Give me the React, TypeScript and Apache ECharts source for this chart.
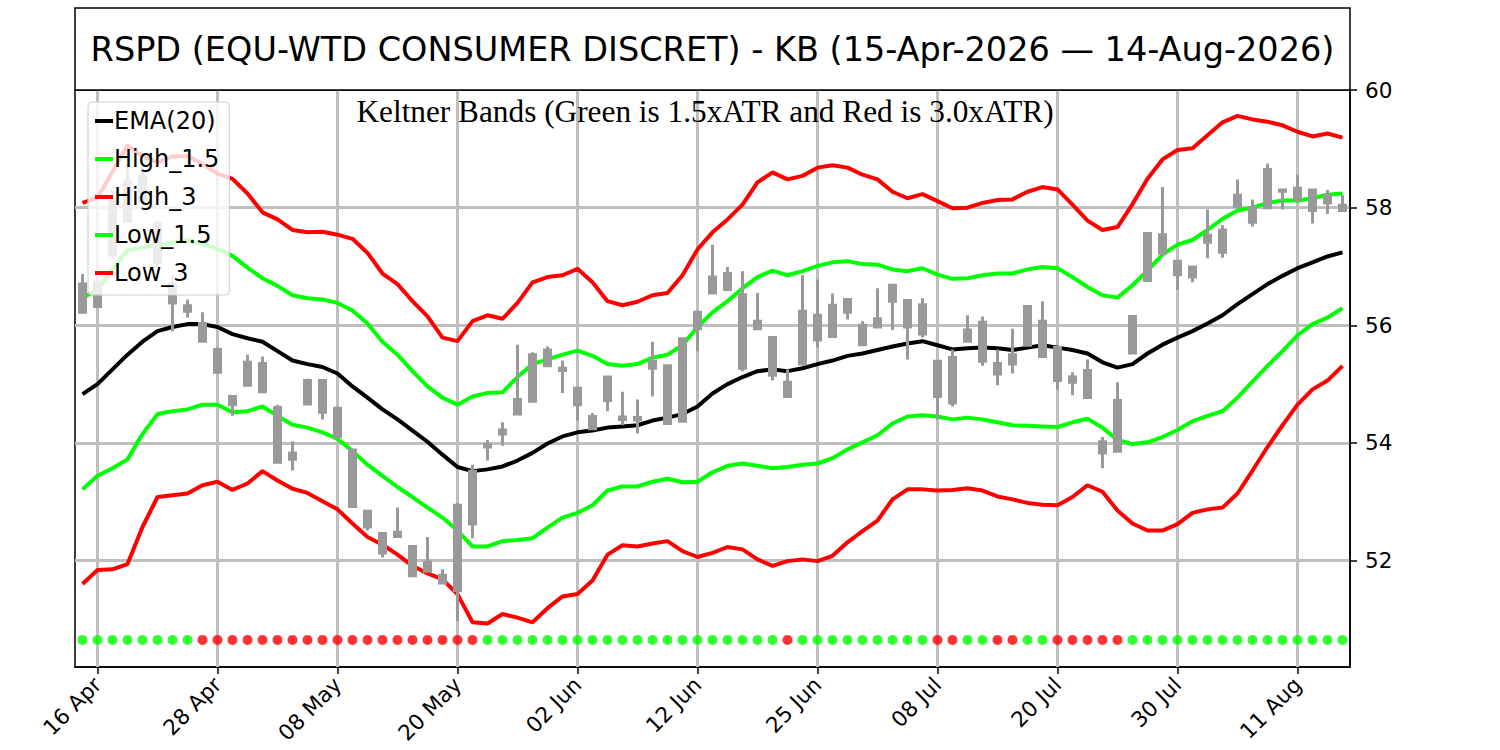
import React, { useEffect, useRef } from "react";
import * as echarts from "echarts";

const dates = [
  "15 Apr", "16 Apr", "17 Apr", "20 Apr", "21 Apr", "22 Apr", "23 Apr", "24 Apr", "27 Apr", "28 Apr", "29 Apr", "30 Apr",
  "01 May", "04 May", "05 May", "06 May", "07 May", "08 May", "11 May", "12 May", "13 May", "14 May", "15 May", "18 May",
  "19 May", "20 May", "21 May", "22 May", "26 May", "27 May", "28 May", "29 May",
  "01 Jun", "02 Jun", "03 Jun", "04 Jun", "05 Jun", "08 Jun", "09 Jun", "10 Jun", "11 Jun", "12 Jun", "15 Jun", "16 Jun",
  "17 Jun", "18 Jun", "22 Jun", "23 Jun", "24 Jun", "25 Jun", "26 Jun", "29 Jun", "30 Jun",
  "01 Jul", "02 Jul", "06 Jul", "07 Jul", "08 Jul", "09 Jul", "10 Jul", "13 Jul", "14 Jul", "15 Jul", "16 Jul", "17 Jul",
  "20 Jul", "21 Jul", "22 Jul", "23 Jul", "24 Jul", "27 Jul", "28 Jul", "29 Jul", "30 Jul", "31 Jul",
  "03 Aug", "04 Aug", "05 Aug", "06 Aug", "07 Aug", "10 Aug", "11 Aug", "12 Aug", "13 Aug", "14 Aug",
];

// candle body top / bottom, wick high / low
const opens = [
  56.70, 56.73, 58.10, 58.43, 58.52, 57.73, 56.70, 56.33, 56.03, 55.59,
  54.79, 55.37, 55.35, 54.60, 53.83, 55.06, 55.06, 54.59, 53.88, 52.84,
  52.46, 52.48, 52.24, 51.97, 51.75, 52.94, 53.52, 53.97, 54.22, 54.74,
  55.50, 55.58, 55.27, 54.93, 54.45, 55.12, 54.44, 54.43, 55.39, 55.31,
  55.77, 56.22, 56.82, 56.88, 56.52, 56.07, 55.79, 55.03, 56.24, 56.17,
  56.34, 56.44, 56.00, 56.11, 56.68, 56.42, 56.35, 55.39, 55.45, 55.92,
  56.05, 55.35, 55.50, 56.32, 56.07, 55.62, 55.12, 55.23, 54.02, 54.72,
  56.15, 57.56, 57.54, 57.09, 56.99, 57.53, 57.62, 58.21, 58.00, 58.65,
  58.30, 58.33, 58.30, 58.21, 58.04,
];
const closes = [
  56.22, 56.32, 57.20, 57.77, 58.11, 57.07, 56.38, 56.24, 55.73, 55.20,
  54.65, 54.98, 54.87, 53.67, 53.72, 54.66, 54.52, 54.11, 52.92, 52.57,
  52.13, 52.41, 51.74, 51.82, 51.62, 51.49, 52.62, 53.93, 54.15, 54.49,
  54.71, 55.31, 55.23, 54.65, 54.24, 54.72, 54.40, 54.39, 55.27, 54.33,
  54.37, 55.94, 56.55, 56.61, 55.27, 55.94, 55.15, 54.79, 55.34, 55.75,
  55.81, 56.22, 55.67, 55.97, 56.41, 55.97, 55.85, 54.79, 54.68, 55.73,
  55.39, 55.17, 55.34, 55.66, 55.47, 55.06, 55.03, 54.77, 53.83, 53.86,
  55.53, 56.76, 57.23, 56.86, 56.82, 57.41, 57.24, 58.02, 57.75, 58.00,
  58.28, 58.14, 57.95, 58.08, 57.95,
];
const highs = [
  56.87, 56.73, 58.30, 58.75, 58.65, 57.78, 56.85, 56.44, 56.22, 55.62,
  54.79, 55.50, 55.47, 54.65, 54.03, 55.09, 55.06, 54.59, 53.88, 52.86,
  52.46, 52.90, 52.24, 52.40, 51.85, 52.98, 53.63, 54.05, 54.35, 55.67,
  55.54, 55.64, 55.40, 54.93, 54.51, 55.12, 54.87, 54.74, 55.72, 55.31,
  55.77, 56.22, 57.37, 56.99, 56.92, 56.55, 55.79, 55.25, 56.85, 56.78,
  56.54, 56.44, 56.07, 56.63, 56.68, 56.42, 56.46, 55.39, 55.59, 56.17,
  56.15, 55.59, 55.94, 56.32, 56.41, 55.62, 55.20, 55.42, 54.10, 55.03,
  56.15, 57.56, 58.35, 57.09, 56.99, 57.97, 57.70, 58.48, 58.14, 58.75,
  58.30, 58.56, 58.30, 58.30, 58.21,
];
const lows = [
  56.22, 56.32, 57.15, 57.77, 58.11, 57.00, 55.90, 56.13, 55.73, 55.18,
  54.46, 54.98, 54.87, 53.67, 53.53, 54.66, 54.40, 54.08, 52.92, 52.51,
  52.05, 52.41, 51.74, 51.82, 51.60, 50.97, 52.38, 53.70, 53.95, 54.49,
  54.71, 55.31, 54.85, 54.38, 54.24, 54.54, 54.30, 54.16, 54.79, 54.33,
  54.37, 55.56, 56.55, 56.61, 55.22, 55.94, 55.06, 54.79, 55.34, 55.62,
  55.81, 56.10, 55.67, 55.97, 55.92, 55.42, 55.79, 54.40, 54.62, 55.73,
  55.31, 54.98, 55.18, 55.66, 55.47, 54.91, 54.81, 54.77, 53.57, 53.86,
  55.53, 56.76, 57.18, 56.60, 56.73, 57.14, 57.15, 58.02, 57.68, 58.00,
  57.97, 58.14, 57.73, 57.89, 57.94,
];

const ema20 = [
  54.83, 55.00, 55.25, 55.50, 55.72, 55.90, 55.97, 56.02, 56.02, 55.97,
  55.85, 55.78, 55.72, 55.56, 55.40, 55.34, 55.29, 55.18, 54.96, 54.77,
  54.57, 54.40, 54.21, 54.02, 53.80, 53.59, 53.52, 53.55, 53.60, 53.70,
  53.83, 53.99, 54.11, 54.18, 54.21, 54.26, 54.28, 54.30, 54.38, 54.43,
  54.49, 54.62, 54.84, 55.00, 55.12, 55.22, 55.25, 55.22, 55.27, 55.34,
  55.40, 55.48, 55.52, 55.58, 55.64, 55.69, 55.73, 55.66, 55.59, 55.61,
  55.62, 55.61, 55.58, 55.62, 55.66, 55.62, 55.58, 55.52, 55.37, 55.28,
  55.34, 55.52, 55.67, 55.79, 55.90, 56.03, 56.17, 56.36, 56.53, 56.70,
  56.84, 56.97, 57.07, 57.17, 57.24,
];
const high15 = [
  56.47, 56.60, 56.95, 57.28, 57.32, 57.36, 57.40, 57.45, 57.38, 57.30,
  57.18, 56.98, 56.80, 56.67, 56.51, 56.46, 56.44, 56.38, 56.25, 56.03,
  55.72, 55.50, 55.22, 54.96, 54.77, 54.65, 54.79, 54.85, 54.86, 55.12,
  55.34, 55.42, 55.50, 55.57, 55.48, 55.34, 55.31, 55.34, 55.45, 55.50,
  55.66, 55.97, 56.22, 56.41, 56.63, 56.82, 56.93, 56.85, 56.92, 57.01,
  57.07, 57.09, 57.04, 57.03, 56.95, 56.92, 56.97, 56.86, 56.79, 56.80,
  56.85, 56.88, 56.88, 56.95, 56.99, 56.97, 56.82, 56.65, 56.51, 56.47,
  56.68, 56.93, 57.20, 57.37, 57.45, 57.62, 57.81, 57.95, 58.00, 58.08,
  58.12, 58.12, 58.16, 58.22, 58.24,
];
const high3 = [
  58.08, 58.17, 58.61, 59.06, 58.87, 58.77, 58.87, 58.88, 58.74, 58.58,
  58.49, 58.24, 57.92, 57.80, 57.62, 57.58, 57.59, 57.54, 57.47, 57.23,
  56.88, 56.70, 56.41, 56.15, 55.79, 55.73, 56.07, 56.17, 56.11, 56.38,
  56.73, 56.82, 56.85, 56.96, 56.73, 56.41, 56.34, 56.40, 56.51, 56.55,
  56.85, 57.29, 57.58, 57.80, 58.05, 58.43, 58.60, 58.48, 58.54, 58.68,
  58.72, 58.68, 58.56, 58.48, 58.27, 58.16, 58.23, 58.11, 57.99, 58.00,
  58.08, 58.13, 58.14, 58.27, 58.35, 58.31, 58.05, 57.78, 57.62, 57.67,
  58.06, 58.49, 58.82, 58.98, 59.01, 59.23, 59.45, 59.56, 59.50, 59.46,
  59.40, 59.29, 59.21, 59.26, 59.19,
];
const low15 = [
  53.21, 53.44, 53.57, 53.72, 54.15, 54.49, 54.54, 54.57, 54.65, 54.65,
  54.52, 54.54, 54.62, 54.46, 54.31, 54.26, 54.18, 54.07, 53.86, 53.63,
  53.44, 53.25, 53.08, 52.90, 52.73, 52.51, 52.24, 52.24, 52.33, 52.35,
  52.38, 52.56, 52.73, 52.81, 52.94, 53.19, 53.26, 53.26, 53.34, 53.39,
  53.33, 53.34, 53.50, 53.61, 53.65, 53.61, 53.57, 53.59, 53.63, 53.65,
  53.74, 53.89, 54.01, 54.13, 54.33, 54.45, 54.47, 54.45, 54.40, 54.43,
  54.40, 54.35, 54.30, 54.29, 54.28, 54.27, 54.35, 54.41, 54.26, 54.05,
  53.98, 54.01, 54.10, 54.22, 54.37, 54.46, 54.54, 54.77, 55.04, 55.31,
  55.56, 55.83, 56.02, 56.13, 56.29,
];
const low3 = [
  51.60, 51.84, 51.85, 51.94, 52.57, 53.08, 53.11, 53.14, 53.28, 53.34,
  53.20, 53.31, 53.52, 53.36, 53.22, 53.15, 53.01, 52.87, 52.63, 52.40,
  52.27, 52.10, 51.91, 51.78, 51.68, 51.43, 50.95, 50.93, 51.09, 51.03,
  50.95, 51.19, 51.39, 51.43, 51.66, 52.10, 52.26, 52.24, 52.29, 52.33,
  52.16, 52.06, 52.13, 52.23, 52.19, 52.02, 51.91, 51.99, 52.02, 51.99,
  52.08, 52.31, 52.50, 52.68, 53.04, 53.21, 53.21, 53.19, 53.20, 53.23,
  53.19, 53.09, 53.04, 52.98, 52.95, 52.94, 53.08, 53.28, 53.17, 52.85,
  52.63, 52.51, 52.51, 52.62, 52.81, 52.87, 52.90, 53.14, 53.53, 53.93,
  54.30, 54.65, 54.91, 55.06, 55.31,
];

// daily signal dots: G = green, R = red
const signals = [
  "G", "G", "G", "G", "G", "G", "G", "G", "R", "R",
  "R", "R", "R", "R", "R", "R", "R", "R", "R", "R",
  "R", "R", "R", "R", "R", "R", "R", "G", "G", "G",
  "G", "G", "G", "G", "G", "G", "G", "G", "G", "G",
  "G", "G", "G", "G", "G", "G", "G", "R", "G", "G",
  "G", "G", "G", "G", "G", "G", "G", "R", "R", "G",
  "G", "R", "R", "G", "G", "R", "R", "R", "R", "R",
  "G", "G", "G", "G", "G", "G", "G", "G", "G", "G",
  "G", "G", "G", "G", "G",
];
const signalLevel = 50.65;

const yMin = 50.19;
const yMax = 60;

const titleText = "RSPD (EQU-WTD CONSUMER DISCRET) - KB (15-Apr-2026 \u2014 14-Aug-2026)";
const subtitleText = "Keltner Bands (Green is 1.5xATR and Red is 3.0xATR)";

export default function App() {
  const ref = useRef<HTMLDivElement>(null);
  useEffect(() => {
    document.body.style.margin = "0";
    const chart = echarts.init(ref.current as HTMLDivElement, null, { renderer: "svg" });
    const font = "DejaVu Sans";
    const gridColor = "#bfbfbf";
    const showIdx = (i: number) => i % 8 === 1;
    const tickIdx = dates.map((_, i) => i).filter(showIdx);
    const lineSeries = (name: string, data: number[], color: string) => ({
      name,
      type: "line",
      data,
      color,
      showSymbol: false,
      symbol: "none",
      silent: true,
      z: 2,
      lineStyle: { color, width: 4 },
      itemStyle: { color },
    });
    chart.setOption({
      animation: false,
      grid: {
        left: 75,
        right: 150,
        top: 90,
        bottom: 83,
        show: true,
        borderColor: "#000",
        borderWidth: 1.5,
        backgroundColor: "rgba(0,0,0,0)",
      },
      xAxis: {
        type: "category",
        data: dates,
        boundaryGap: true,
        axisLine: { show: true, lineStyle: { color: "#000", width: 1.5 } },
        axisTick: {
          show: true,
          alignWithLabel: true,
          interval: (i: number) => showIdx(i),
          length: 7,
          lineStyle: { color: "#000", width: 1.5 },
        },
        axisLabel: {
          interval: (i: number) => showIdx(i),
          rotate: 45,
          fontSize: 21.5,
          fontFamily: font,
          color: "#000",
          margin: 14,
        },
        splitLine: { show: false },
      },
      yAxis: {
        type: "value",
        position: "right",
        min: yMin,
        max: yMax,
        axisLine: { show: true, lineStyle: { color: "#000", width: 1.5 } },
        axisTick: { show: true, length: 7, lineStyle: { color: "#000", width: 1.5 } },
        axisLabel: {
          fontSize: 21.5,
          fontFamily: font,
          color: "#000",
          margin: 15,
          showMinLabel: false,
          formatter: (v: number) => (Math.abs(v - Math.round(v)) < 1e-6 ? String(Math.round(v)) : ""),
        },
        splitLine: {
          show: true,
          showMinLine: false,
          showMaxLine: false,
          lineStyle: { color: gridColor, width: 3 },
        },
      },
      legend: {
        data: ["EMA(20)", "High_1.5", "High_3", "Low_1.5", "Low_3"],
        orient: "vertical",
        left: 88,
        top: 102,
        icon: "rect",
        itemWidth: 18,
        itemHeight: 4,
        itemGap: 14,
        padding: [7, 10, 10, 7],
        backgroundColor: "rgba(255,255,255,0.8)",
        borderColor: "#cccccc",
        borderWidth: 1,
        borderRadius: 4,
        selectedMode: false,
        textStyle: { fontSize: 24, fontFamily: font, color: "#000", padding: [0, 0, 0, -4] },
      },
      graphic: [
        {
          type: "rect",
          shape: { x: 75, y: 8, width: 1275, height: 82 },
          style: { fill: "#fff", stroke: "#000", lineWidth: 1.5 },
          z: 10,
        },
        {
          type: "text",
          x: 712.5,
          y: 49,
          z: 11,
          style: {
            text: titleText,
            fontSize: 33.5,
            fontFamily: font,
            fill: "#000",
            textAlign: "center",
            textVerticalAlign: "middle",
            align: "center",
            verticalAlign: "middle",
          },
        },
        {
          type: "text",
          x: 705,
          y: 111,
          z: 11,
          style: {
            text: subtitleText,
            fontSize: 31.3,
            fontFamily: "Liberation Serif",
            fill: "#000",
            textAlign: "center",
            textVerticalAlign: "middle",
            align: "center",
            verticalAlign: "middle",
          },
        },
      ],
      series: [
        {
          name: "grid-x",
          type: "line",
          data: [],
          silent: true,
          z: 1,
          markLine: {
            silent: true,
            z: 1,
            symbol: "none",
            label: { show: false },
            lineStyle: { color: gridColor, width: 3, type: "solid" },
            data: tickIdx.map((i) => ({ xAxis: dates[i] })),
          },
        },
        lineSeries("EMA(20)", ema20, "#000000"),
        lineSeries("High_1.5", high15, "#00ff00"),
        lineSeries("High_3", high3, "#ff0000"),
        lineSeries("Low_1.5", low15, "#00ff00"),
        lineSeries("Low_3", low3, "#ff0000"),
        {
          name: "candles",
          type: "candlestick",
          z: 3,
          barWidth: 7,
          silent: true,
          data: opens.map((o, i) => [o, closes[i], lows[i], highs[i]]),
          itemStyle: {
            color: "#999999",
            color0: "#999999",
            borderColor: "#999999",
            borderColor0: "#999999",
            borderWidth: 3,
          },
        },
        {
          name: "signals",
          type: "scatter",
          z: 4,
          silent: true,
          symbolSize: 10,
          data: signals.map((s, i) => ({
            value: [i, signalLevel],
            itemStyle: { color: s === "R" ? "#ff0000" : "#00ff00" },
          })),
        },
      ],
    });
    return () => chart.dispose();
  }, []);
  return <div ref={ref} style={{ width: 1500, height: 750 }} />;
}
